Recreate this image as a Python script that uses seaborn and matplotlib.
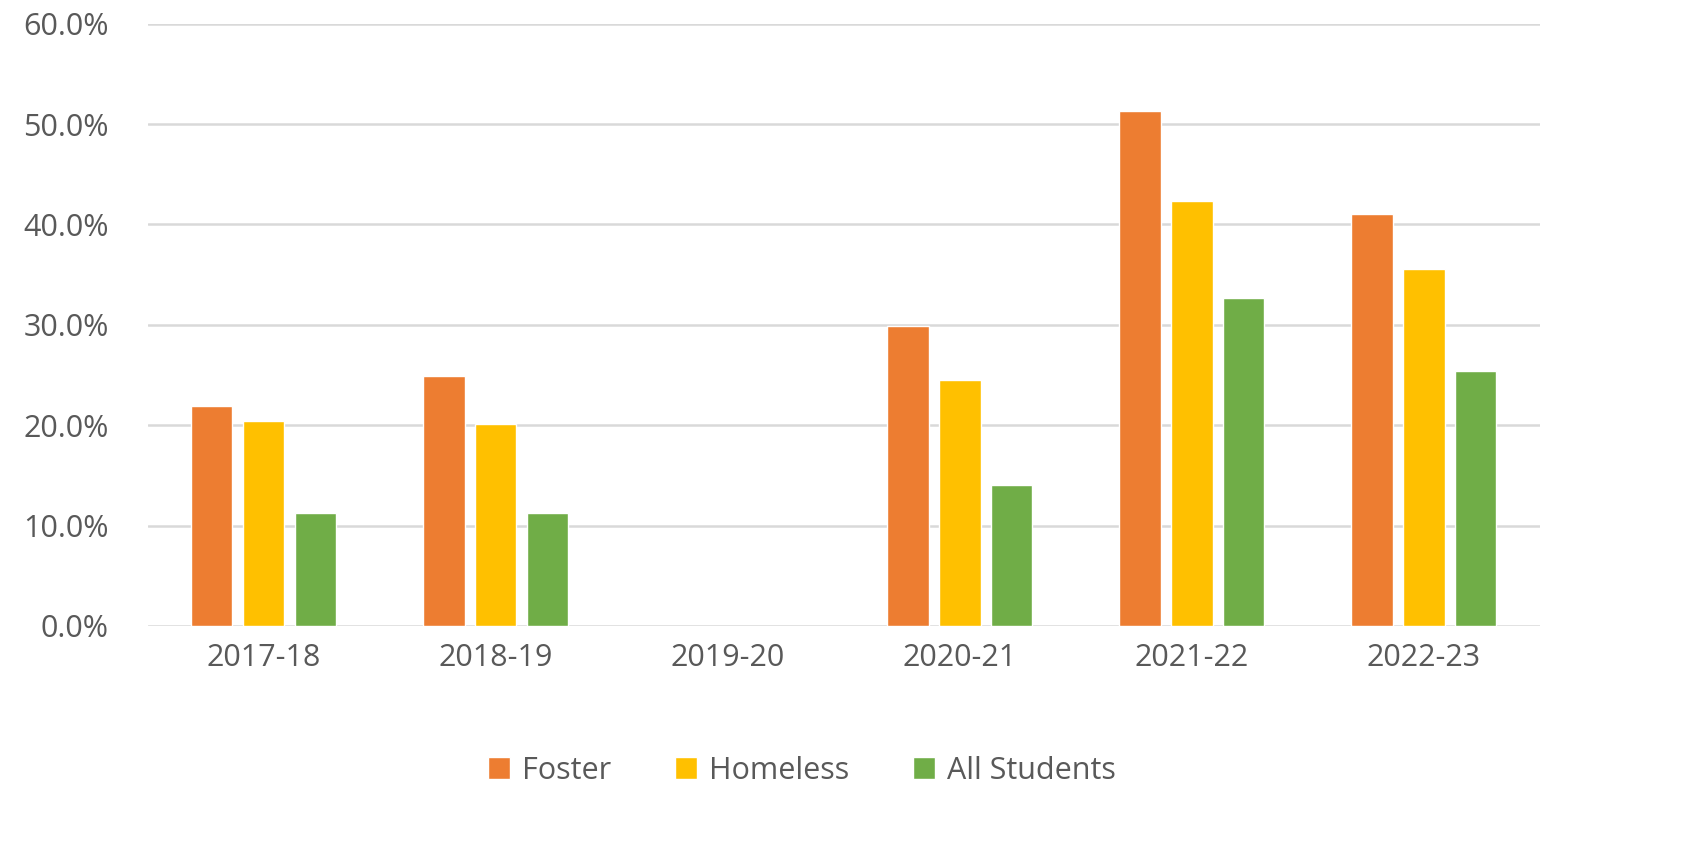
import numpy as np
import pandas as pd
import matplotlib
matplotlib.use("Agg")
import matplotlib.pyplot as plt
import seaborn as sns
from matplotlib.ticker import FuncFormatter

years = ["2017-18", "2018-19", "2019-20", "2020-21", "2021-22", "2022-23"]
foster = [21.9, 24.9, np.nan, 29.9, 51.3, 41.0]
homeless = [20.4, 20.1, np.nan, 24.5, 42.3, 35.6]
all_students = [11.3, 11.3, np.nan, 14.0, 32.7, 25.4]
groups = ["Foster", "Homeless", "All Students"]
colors = ["#ED7D31", "#FFC000", "#70AD47"]

df = pd.DataFrame({
    "year": years * 3,
    "group": [g for g in groups for _ in years],
    "value": foster + homeless + all_students,
}).dropna()

sns.set_style("white")
plt.rcParams["font.family"] = ["Open Sans", "DejaVu Sans"]

fig, ax = plt.subplots(figsize=(16.96, 8.47), dpi=100)
fig.subplots_adjust(left=0.087, right=0.908, top=0.972, bottom=0.261)

sns.barplot(data=df, x="year", y="value", hue="group", order=years,
            hue_order=groups, palette=colors, width=0.67, gap=0.2,
            saturation=1, ax=ax, zorder=3)

ax.set_ylim(0, 60)
ax.set_yticks(np.arange(0, 61, 10))
ax.yaxis.set_major_formatter(FuncFormatter(lambda v, _: f"{v:.1f}%"))
ax.grid(axis="y", color="#D9D9D9", linewidth=1.8, zorder=0)
ax.set_axisbelow(True)
for s in ax.spines.values():
    s.set_visible(False)
ax.set_xlabel("")
ax.set_ylabel("")
ax.tick_params(axis="both", length=0, labelsize=22, labelcolor="#595959", pad=12)
ax.tick_params(axis="y", pad=28)

leg = ax.legend(loc="upper center", bbox_to_anchor=(0.47, -0.17), ncol=3,
                frameon=False, fontsize=22, handlelength=0.7, handleheight=0.7,
                handletextpad=0.4, columnspacing=2.1)
for t in leg.get_texts():
    t.set_color("#595959")

plt.savefig("out.png", dpi=100)
plt.close(fig)
